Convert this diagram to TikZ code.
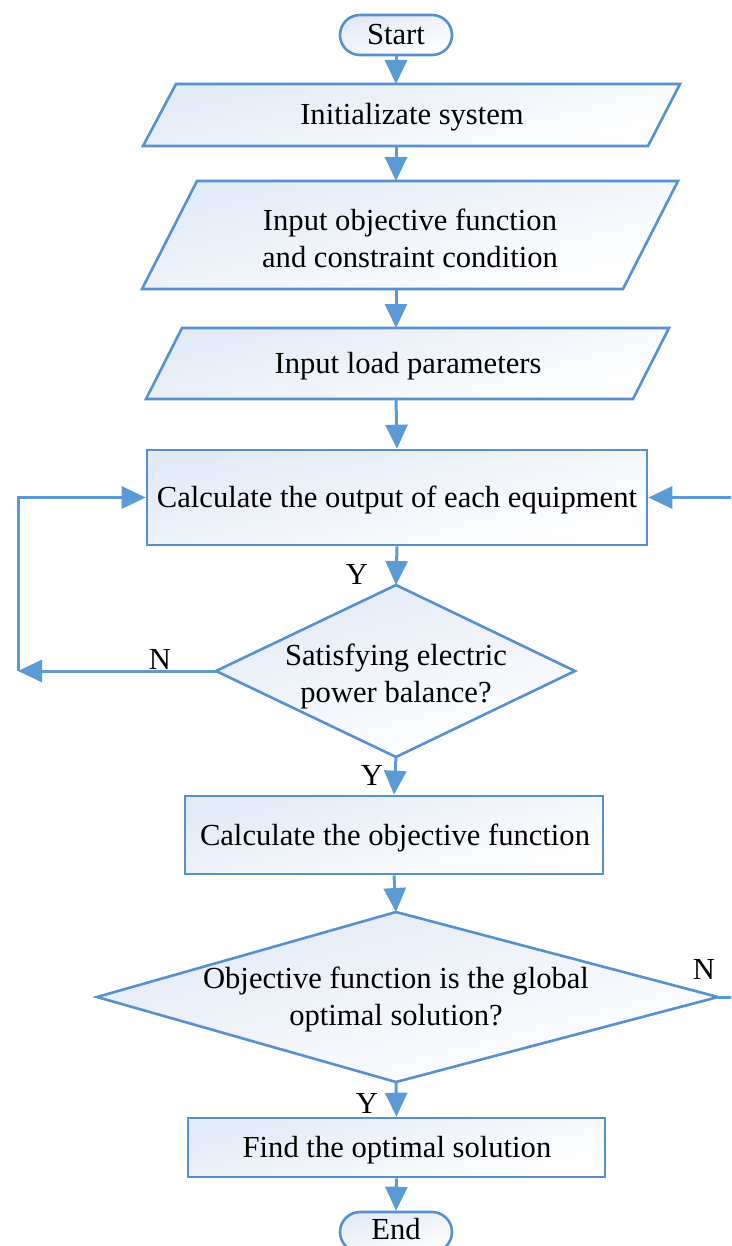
\documentclass[tikz,border=0pt]{standalone}
\usepackage{fontspec}
\setmainfont{Liberation Serif}
\usetikzlibrary{arrows.meta,shapes.geometric,calc}
\definecolor{lineblue}{HTML}{5B9BD5}
\definecolor{edgeblue}{HTML}{5591CE}
\definecolor{fillblue}{HTML}{E2EAF6}
\tikzset{
  shapefill/.style={draw=edgeblue,line width=2.6pt,line join=miter,
    shading=axis,left color=fillblue,right color=white,shading angle=15},
  txt/.style={font=\fontsize{30.6}{37}\selectfont,align=center,inner sep=0pt},
  lab/.style={font=\fontsize{30.6}{36}\selectfont,inner sep=0pt},
  conn/.style={draw=lineblue,line width=3pt,-{Triangle[length=24pt,width=22pt]}},
  plain/.style={draw=lineblue,line width=3pt},
}
\begin{document}
\begin{tikzpicture}[x=1pt,y=-1pt]
\useasboundingbox (0,0) rectangle (731,1246);
\clip (0,0) rectangle (731,1246);
% Start
\node[shapefill,rounded corners=20pt,minimum width=112pt,minimum height=40pt,txt] (start) at (396,35) {Start};
% parallelogram 1
\path[shapefill] (176,84) -- (680,84) -- (648,146) -- (143,146) -- cycle;
\coordinate (p1t) at (396,84); \coordinate (p1b) at (396,146);
\node[txt] (p1) at (412,117) {Initializate system};
% parallelogram 2
\path[shapefill] (197,181) -- (678,181) -- (623,289) -- (142,289) -- cycle;
\coordinate (p2t) at (396,181); \coordinate (p2b) at (396,289);
\node[txt] (p2) at (410,238) {Input objective function\\and constraint condition};
% parallelogram 3
\path[shapefill] (182,328) -- (669,328) -- (633,399) -- (146,399) -- cycle;
\coordinate (p3t) at (396,328); \coordinate (p3b) at (396,399);
\node[txt] (p3) at (408,366) {Input load parameters};
% box 1
\node[shapefill,minimum width=500pt,minimum height=95pt] (b1) at (397,497.5) {};
\node[txt] (b1t) at (397,500) {Calculate the output of each equipment};
% diamond 1
\path[shapefill] (396,585) -- (575,671) -- (396,757) -- (216,671) -- cycle;
\coordinate (d1t) at (396,585); \coordinate (d1b) at (396,757);
\coordinate (d1l) at (216,671);
\node[txt] (d1) at (396,676) {Satisfying electric\\power balance?};
% box 2
\node[shapefill,minimum width=418pt,minimum height=78pt] (b2) at (394,835) {};
\node[txt] (b2t) at (395,838) {Calculate the objective function};
% diamond 2
\path[shapefill] (396,912) -- (718,997) -- (396,1082) -- (97,997) -- cycle;
\coordinate (d2t) at (396,912); \coordinate (d2b) at (396,1082);
\coordinate (d2r) at (718,997);
\node[txt] (d2) at (396,999) {Objective function is the global\\optimal solution?};
% box 3
\node[shapefill,minimum width=417pt,minimum height=59pt] (b3) at (396.5,1147.5) {};
\node[txt] (b3t) at (397,1150) {Find the optimal solution};
% End
\node[shapefill,rounded corners=20pt,minimum width=112pt,minimum height=40pt] (end) at (396,1232) {};
\node[txt] (endt) at (396,1229) {End};
% loop corners
\coordinate (lc) at (18,671);
\coordinate (rc) at (740,997);
% connectors
\draw[conn] (start.south) -- (p1t);
\draw[conn] (p1b) -- (p2t);
\draw[conn] (p2b) -- (p3t);
\draw[conn] (p3b) -- (b1.north);
\draw[conn] (b1.south) -- (d1t);
\draw[conn] (d1b) -- (b2.north);
\draw[conn] (b2.south) -- (d2t);
\draw[conn] (d2b) -- (b3.north);
\draw[conn] (b3.south) -- (end.north);
\draw[conn] (d1l) -- (lc);
\draw[conn] (lc) |- (b1.west);
\draw[plain] (d2r) -- (rc);
\draw[conn] (rc) |- (b1.east);
% labels
\node[lab] (y1) at (357,574) {Y};
\node[lab] (n1) at (160,659) {N};
\node[lab] (y2) at (372,775) {Y};
\node[lab] (n2) at (704,969) {N};
\node[lab] (y3) at (367,1103) {Y};
\end{tikzpicture}
\end{document}
